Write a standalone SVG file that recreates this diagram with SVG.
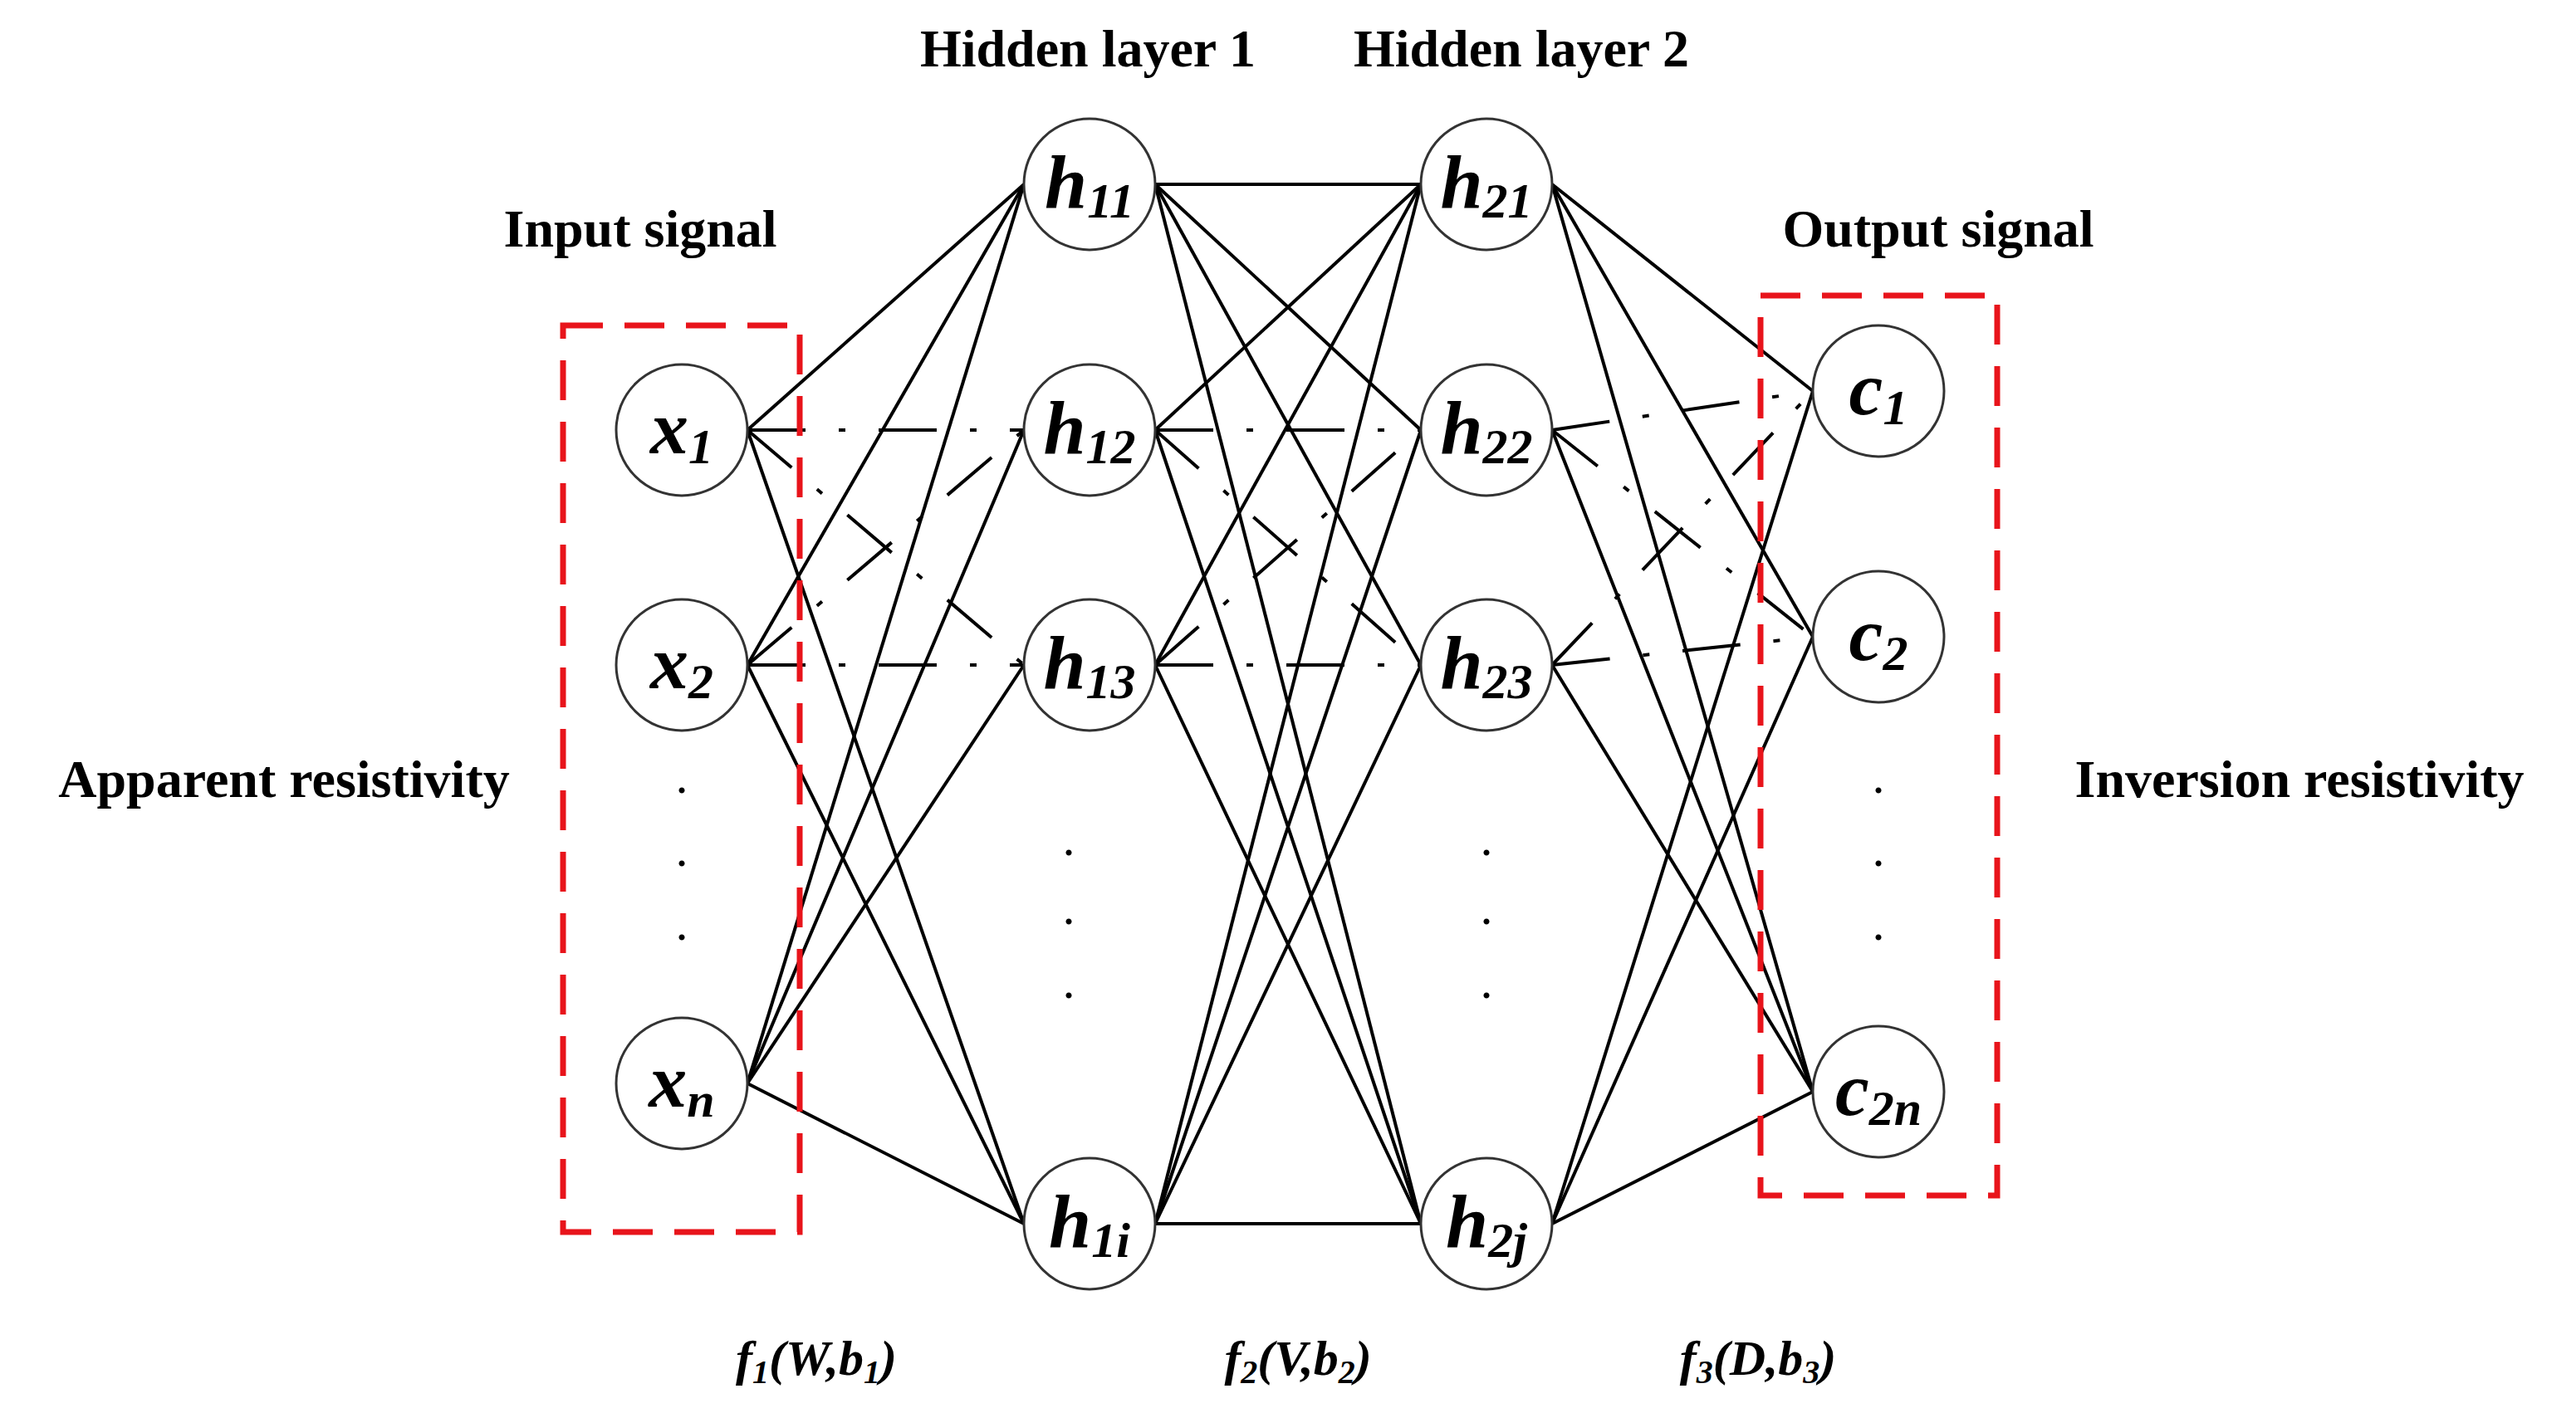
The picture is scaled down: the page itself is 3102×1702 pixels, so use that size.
<svg xmlns="http://www.w3.org/2000/svg" width="3102" height="1702" viewBox="0 0 3102 1702">
<style>
.e{stroke:#000;stroke-width:4;fill:none}
.d{stroke:#000;stroke-width:4;fill:none;stroke-dasharray:70 40 8 40}
.n{fill:#fff;stroke:#333;stroke-width:3}
.t{font-family:"Liberation Serif",serif;font-weight:bold;font-style:italic;font-size:92px;text-anchor:middle}
.s{font-size:60px}
.h{font-family:"Liberation Serif",serif;font-weight:bold;font-size:64px;text-anchor:middle}
.f{font-family:"Liberation Serif",serif;font-weight:bold;font-style:italic;font-size:60px;text-anchor:middle}
.b{fill:none;stroke:#e8141b;stroke-width:7;stroke-dasharray:48 26}
.dot{font-family:"Liberation Serif",serif;font-size:60px;text-anchor:middle}
</style>
<rect width="3102" height="1702" fill="#fff"/>
<g id="connectors">
<line class="e" x1="900" y1="518" x2="1233" y2="222"/>
<line class="d" x1="900" y1="518" x2="1233" y2="518"/>
<line class="d" x1="900" y1="518" x2="1233" y2="801"/>
<line class="e" x1="900" y1="518" x2="1233" y2="1474"/>
<line class="e" x1="900" y1="801" x2="1233" y2="222"/>
<line class="d" x1="900" y1="801" x2="1233" y2="518"/>
<line class="d" x1="900" y1="801" x2="1233" y2="801"/>
<line class="e" x1="900" y1="801" x2="1233" y2="1474"/>
<line class="e" x1="900" y1="1305" x2="1233" y2="222"/>
<line class="e" x1="900" y1="1305" x2="1233" y2="518"/>
<line class="e" x1="900" y1="1305" x2="1233" y2="801"/>
<line class="e" x1="900" y1="1305" x2="1233" y2="1474"/>
<line class="e" x1="1391" y1="222" x2="1711" y2="222"/>
<line class="e" x1="1391" y1="222" x2="1711" y2="518"/>
<line class="e" x1="1391" y1="222" x2="1711" y2="801"/>
<line class="e" x1="1391" y1="222" x2="1711" y2="1474"/>
<line class="e" x1="1391" y1="518" x2="1711" y2="222"/>
<line class="d" x1="1391" y1="518" x2="1711" y2="518"/>
<line class="d" x1="1391" y1="518" x2="1711" y2="801"/>
<line class="e" x1="1391" y1="518" x2="1711" y2="1474"/>
<line class="e" x1="1391" y1="801" x2="1711" y2="222"/>
<line class="d" x1="1391" y1="801" x2="1711" y2="518"/>
<line class="d" x1="1391" y1="801" x2="1711" y2="801"/>
<line class="e" x1="1391" y1="801" x2="1711" y2="1474"/>
<line class="e" x1="1391" y1="1474" x2="1711" y2="222"/>
<line class="e" x1="1391" y1="1474" x2="1711" y2="518"/>
<line class="e" x1="1391" y1="1474" x2="1711" y2="801"/>
<line class="e" x1="1391" y1="1474" x2="1711" y2="1474"/>
<line class="e" x1="1869" y1="222" x2="2183" y2="471"/>
<line class="e" x1="1869" y1="222" x2="2183" y2="767"/>
<line class="e" x1="1869" y1="222" x2="2183" y2="1315"/>
<line class="d" x1="1869" y1="518" x2="2183" y2="471"/>
<line class="d" x1="1869" y1="518" x2="2183" y2="767"/>
<line class="e" x1="1869" y1="518" x2="2183" y2="1315"/>
<line class="d" x1="1869" y1="801" x2="2183" y2="471"/>
<line class="d" x1="1869" y1="801" x2="2183" y2="767"/>
<line class="e" x1="1869" y1="801" x2="2183" y2="1315"/>
<line class="e" x1="1869" y1="1474" x2="2183" y2="471"/>
<line class="e" x1="1869" y1="1474" x2="2183" y2="767"/>
<line class="e" x1="1869" y1="1474" x2="2183" y2="1315"/>
</g>
<rect class="b" x="678" y="392" width="285" height="1092"/>
<rect class="b" x="2120" y="356" width="285" height="1084"/>
<g id="x1"><circle class="n" cx="821" cy="518" r="79"/><text class="t" x="821" y="546">x<tspan class="s" dy="12">1</tspan></text></g>
<g id="x2"><circle class="n" cx="821" cy="801" r="79"/><text class="t" x="821" y="829">x<tspan class="s" dy="12">2</tspan></text></g>
<g id="xn"><circle class="n" cx="821" cy="1305" r="79"/><text class="t" x="821" y="1333">x<tspan class="s" dy="12">n</tspan></text></g>
<g id="h11"><circle class="n" cx="1312" cy="222" r="79"/><text class="t" x="1312" y="250">h<tspan class="s" dy="12">11</tspan></text></g>
<g id="h12"><circle class="n" cx="1312" cy="518" r="79"/><text class="t" x="1312" y="546">h<tspan class="s" dy="12">12</tspan></text></g>
<g id="h13"><circle class="n" cx="1312" cy="801" r="79"/><text class="t" x="1312" y="829">h<tspan class="s" dy="12">13</tspan></text></g>
<g id="h1i"><circle class="n" cx="1312" cy="1474" r="79"/><text class="t" x="1312" y="1502">h<tspan class="s" dy="12">1i</tspan></text></g>
<g id="h21"><circle class="n" cx="1790" cy="222" r="79"/><text class="t" x="1790" y="250">h<tspan class="s" dy="12">21</tspan></text></g>
<g id="h22"><circle class="n" cx="1790" cy="518" r="79"/><text class="t" x="1790" y="546">h<tspan class="s" dy="12">22</tspan></text></g>
<g id="h23"><circle class="n" cx="1790" cy="801" r="79"/><text class="t" x="1790" y="829">h<tspan class="s" dy="12">23</tspan></text></g>
<g id="h2j"><circle class="n" cx="1790" cy="1474" r="79"/><text class="t" x="1790" y="1502">h<tspan class="s" dy="12">2j</tspan></text></g>
<g id="c1"><circle class="n" cx="2262" cy="471" r="79"/><text class="t" x="2262" y="499">c<tspan class="s" dy="12">1</tspan></text></g>
<g id="c2"><circle class="n" cx="2262" cy="767" r="79"/><text class="t" x="2262" y="795">c<tspan class="s" dy="12">2</tspan></text></g>
<g id="c2n"><circle class="n" cx="2262" cy="1315" r="79"/><text class="t" x="2262" y="1343">c<tspan class="s" dy="12">2n</tspan></text></g>
<g id="dots">
<text class="dot" x="821" y="955">.</text><text class="dot" x="821" y="1043">.</text><text class="dot" x="821" y="1132">.</text>
<text class="dot" x="1287" y="1030">.</text><text class="dot" x="1287" y="1113">.</text><text class="dot" x="1287" y="1202">.</text>
<text class="dot" x="1790" y="1030">.</text><text class="dot" x="1790" y="1113">.</text><text class="dot" x="1790" y="1202">.</text>
<text class="dot" x="2262" y="955">.</text><text class="dot" x="2262" y="1043">.</text><text class="dot" x="2262" y="1132">.</text>
</g>
<g id="labels">
<text class="h" x="1310" y="80">Hidden layer 1</text>
<text class="h" x="1832" y="80">Hidden layer 2</text>
<text class="h" x="771" y="297">Input signal</text>
<text class="h" x="2334" y="297">Output signal</text>
<text class="h" x="342" y="960">Apparent resistivity</text>
<text class="h" x="2769" y="960">Inversion resistivity</text>
<text class="f" x="983" y="1656">f<tspan font-size="40" dy="10">1</tspan><tspan dy="-10">(W,b</tspan><tspan font-size="40" dy="10">1</tspan><tspan dy="-10">)</tspan></text>
<text class="f" x="1563" y="1656">f<tspan font-size="40" dy="10">2</tspan><tspan dy="-10">(V,b</tspan><tspan font-size="40" dy="10">2</tspan><tspan dy="-10">)</tspan></text>
<text class="f" x="2117" y="1656">f<tspan font-size="40" dy="10">3</tspan><tspan dy="-10">(D,b</tspan><tspan font-size="40" dy="10">3</tspan><tspan dy="-10">)</tspan></text>
</g>
</svg>
